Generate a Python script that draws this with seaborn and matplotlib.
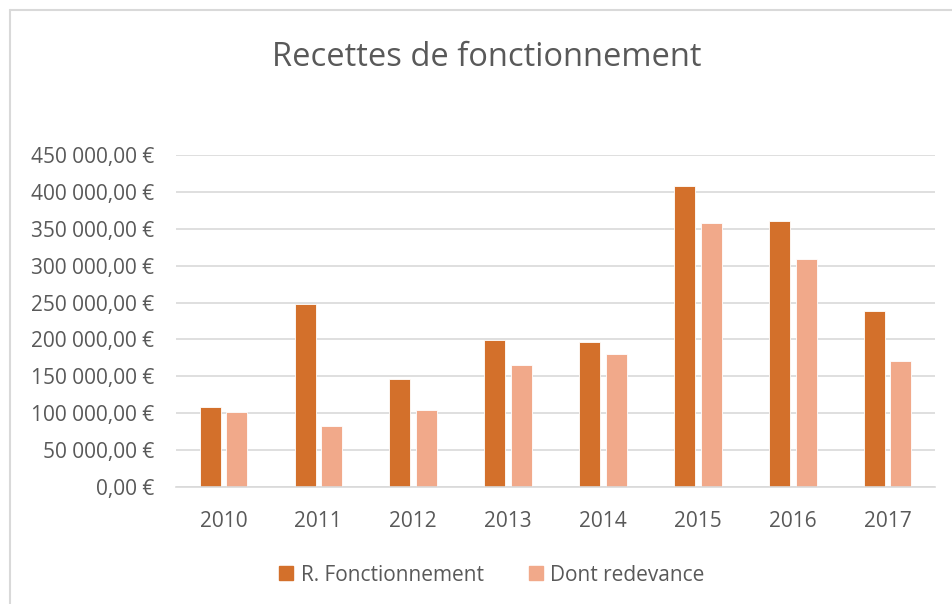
import pandas as pd
import numpy as np
import matplotlib
matplotlib.use("Agg")
import matplotlib.pyplot as plt
import seaborn as sns
from matplotlib.ticker import FuncFormatter, MultipleLocator
from matplotlib.lines import Line2D

#================================資料===============================
annees = ["2010", "2011", "2012", "2013", "2014", "2015", "2016", "2017"]
r_fonctionnement = [108600, 248600, 145900, 198600, 196800, 408100, 360400, 238700]
dont_redevance = [101800, 83300, 104100, 165300, 179700, 358100, 309000, 170300]
series = ["R. Fonctionnement", "Dont redevance"]
couleurs = ["#D3702B", "#F1A98A"]
#===================================================================

df = pd.DataFrame({
    "annee": annees * 2,
    "valeur": r_fonctionnement + dont_redevance,
    "serie": [series[0]] * len(annees) + [series[1]] * len(annees),
})

sns.set_theme(style="white")
plt.rcParams["font.family"] = ["Open Sans", "DejaVu Sans"]
texte = "#595959"

fig = plt.figure(figsize=(9.52, 6.04), dpi=100)
ax = fig.add_axes([0.1849, 0.1937, 0.7973, 0.5497])

sns.barplot(data=df, x="annee", y="valeur", hue="serie", palette=couleurs,
            saturation=1, width=0.56, gap=0.21, edgecolor="white", linewidth=0.6,
            ax=ax, legend=False)

ax.set_ylim(0, 450000)
ax.set_xlim(-0.5, len(annees) - 0.5)
ax.yaxis.set_major_locator(MultipleLocator(50000))

def fmt_euro(v, pos):
    s = f"{v:,.2f}".replace(",", " ").replace(".", ",")
    return s + " €"

ax.yaxis.set_major_formatter(FuncFormatter(fmt_euro))
ax.grid(axis="y", color="#D9D9D9", linewidth=1.2)
ax.set_axisbelow(True)
for s in ["top", "right", "left"]:
    ax.spines[s].set_visible(False)
ax.spines["bottom"].set_color("#D9D9D9")
ax.spines["bottom"].set_linewidth(1.2)
ax.tick_params(axis="both", length=0, labelsize=15, labelcolor=texte)
ax.tick_params(axis="y", pad=16)
ax.tick_params(axis="x", pad=17)
ax.set_xlabel("")
ax.set_ylabel("")

fig.text(0.5116, 0.904, "Recettes de fonctionnement", ha="center", va="center",
         fontsize=23.5, color=texte)

# légende
handles = [Line2D([0], [0], marker="s", linestyle="", markersize=10,
                  markerfacecolor=c, markeredgecolor=c) for c in couleurs]
fig.legend(handles, series, loc="center", bbox_to_anchor=(0.515, 0.048), ncol=2,
           frameon=False, fontsize=15, labelcolor=texte, handletextpad=0.2,
           columnspacing=2.0, handlelength=1.0)

# bordure du graphique
fig.add_artist(Line2D([9.5 / 952, 1], [1 - 9.5 / 604, 1 - 9.5 / 604],
                      transform=fig.transFigure, color="#D9D9D9", linewidth=1.5))
fig.add_artist(Line2D([9.5 / 952, 9.5 / 952], [0, 1 - 9.5 / 604],
                      transform=fig.transFigure, color="#D9D9D9", linewidth=1.5))

fig.savefig("out.png", dpi=100, facecolor="white")
plt.close()
